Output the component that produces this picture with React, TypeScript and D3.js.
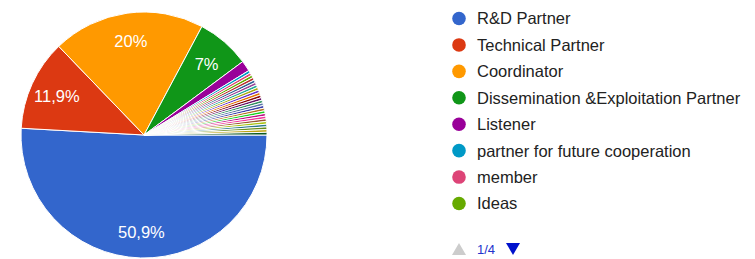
import React from 'react';
import * as d3 from 'd3';

// response counts (N = 285) read from the slice percentages
const mainLabels = ['R&D Partner', 'Technical Partner', 'Coordinator', 'Dissemination &Exploitation Partner', 'Listener'];
const mainValues = [145, 34, 57, 20, 4];
// remaining single answers (only the first three are visible on legend page 1/4)
const smallLabels = [
  'partner for future cooperation', 'member', 'Ideas',
  'answer 9', 'answer 10', 'answer 11', 'answer 12', 'answer 13', 'answer 14', 'answer 15',
  'answer 16', 'answer 17', 'answer 18', 'answer 19', 'answer 20', 'answer 21', 'answer 22',
  'answer 23', 'answer 24', 'answer 25', 'answer 26', 'answer 27', 'answer 28', 'answer 29', 'answer 30',
];
const smallValues = [1, 1, 1, 1, 1, 1, 1, 1, 1, 1, 1, 1, 1, 1, 1, 1, 1, 1, 1, 1, 1, 1, 1, 1, 1];
const palette = [
  '#3366cc', '#dc3912', '#ff9900', '#109618', '#990099', '#0099c6', '#dd4477', '#66aa00',
  '#b82e2e', '#316395', '#994499', '#22aa99', '#aaaa11', '#6633cc', '#e67300', '#8b0707',
  '#651067', '#329262', '#5574a6', '#3b3eac', '#b77322', '#16d620', '#b91383', '#f4359e',
  '#9c5935', '#a9c413', '#2a778d', '#668d1c', '#bea413', '#0c5922',
];
const pageSize = 8;

const labels = [...mainLabels, ...smallLabels];
const values = [...mainValues, ...smallValues];

const App: React.FC = () => {
  const width = 755;
  const height = 259;
  const cx = 144;
  const cy = 135;
  const radius = 123;
  const font = '"Liberation Sans", Arial, sans-serif';

  const total = d3.sum(values);
  const pie = d3.pie<number>()
      .sort(null)
      .startAngle(Math.PI / 2)
      .endAngle(Math.PI / 2 + 2 * Math.PI);
  const arcs = pie(values);
  const arc = d3.arc<d3.PieArcDatum<number>>().innerRadius(0).outerRadius(radius);
  const labelArc = d3.arc<d3.PieArcDatum<number>>()
      .innerRadius(radius * 0.78).outerRadius(radius * 0.78);
  const color = d3.scaleOrdinal<number, string>().domain(d3.range(values.length)).range(palette);

  const fmt = (v: number) => {
    const p = Math.round((v / total) * 1000) / 10;
    return `${p}`.replace('.', ',') + '%';
  };

  const legendY = d3.scalePoint<number>()
      .domain(d3.range(pageSize))
      .range([18.5, 203.5]);
  const pageCount = Math.ceil(labels.length / pageSize);

  return (
      <svg width={width} height={height}
           style={{position: 'absolute', left: 0, top: 0, fontFamily: font}}>
        <g transform={`translate(${cx},${cy})`}>
          {arcs.map((a, i) => (
              <path key={i} d={arc(a) || ''} fill={color(i)} stroke="#fff" strokeWidth={1}/>
          ))}
          {arcs.map((a, i) => {
            if (a.value / total < 0.05) return null;
            const [x, y] = labelArc.centroid(a);
            return (
                <text key={i} x={x} y={y} dy="0.45em" textAnchor="middle"
                      fill="#fff" fontSize={16.5}>{fmt(a.value)}</text>
            );
          })}
        </g>
        <g>
          {labels.slice(0, pageSize).map((l, i) => (
              <g key={l} transform={`translate(0,${legendY(i)})`}>
                <circle cx={459} cy={0} r={6.8} fill={color(i)}/>
                <text x={477} y={0} dy="0.36em" fontSize={16.5} fill="#222">{l}</text>
              </g>
          ))}
        </g>
        <g transform="translate(0,249)">
          <path d="M452,6 L459,-6 L466,6 Z" fill="#cccccc"/>
          <text x={477} y={0} dy="0.36em" fontSize={13} fill="#2233cc">{`1/${pageCount}`}</text>
          <path d="M506,-6 L520,-6 L513,6 Z" fill="#0011cc"/>
        </g>
      </svg>
  );
};

export default App;
